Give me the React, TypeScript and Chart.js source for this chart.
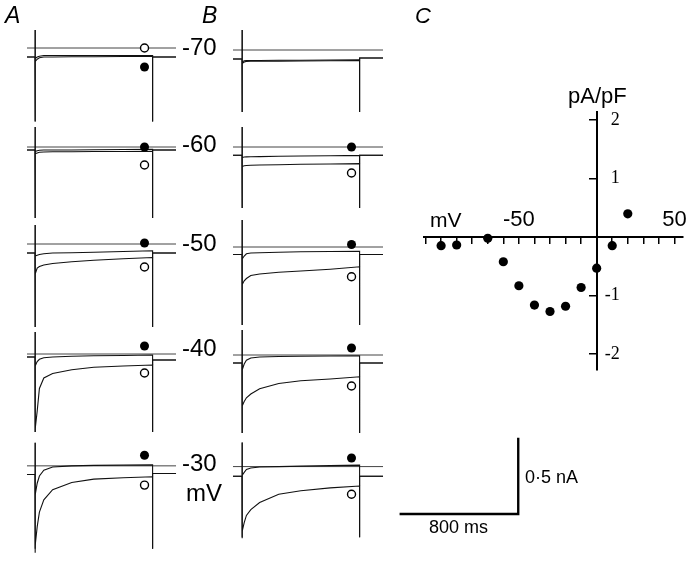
import React, { useEffect, useRef } from 'react';
import { Chart, registerables } from 'chart.js';

Chart.register(...registerables);

const W = 692;
const H = 561;

// ---------- Panel C : current density vs voltage ----------
const C_MV = [-100, -90, -70, -60, -50, -40, -30, -20, -10, 0, 10, 20];
const C_DENSITY = [-0.145, -0.133, -0.02, -0.42, -0.83, -1.16, -1.27, -1.18, -0.86, -0.53, -0.145, 0.4];
const C_X_LABELS = [-50, 50];
const C_Y_LABELS = [-2, -1, 1, 2];

// ---------- Panels A and B : current traces (nA vs ms) ----------
const STEP_LABELS = ['-70', '-60', '-50', '-40', '-30'];
const STEP_MS = 800;
const MARK_MS = 745;
const T_SAMPLES = [0, 5, 15, 30, 60, 120, 250, 400, 600, 800];

const A_CTRL = [
  [-0.1, -0.09, -0.075, -0.065, -0.06, -0.06, -0.058, -0.058, -0.057, -0.055],
  [-0.04, -0.03, -0.025, -0.022, -0.02, -0.02, -0.02, -0.018, -0.017, -0.015],
  [-0.09, -0.08, -0.075, -0.07, -0.065, -0.06, -0.058, -0.055, -0.05, -0.045],
  [-0.12, -0.08, -0.05, -0.035, -0.025, -0.02, -0.015, -0.012, -0.01, -0.007],
  [-0.3, -0.2, -0.12, -0.07, -0.03, -0.008, 0, 0.003, 0.005, 0.007],
];
const A_TEST = [
  [-0.08, -0.07, -0.06, -0.055, -0.05, -0.05, -0.05, -0.05, -0.05, -0.05],
  [-0.05, -0.045, -0.04, -0.035, -0.033, -0.032, -0.032, -0.03, -0.03, -0.028],
  [-0.25, -0.2, -0.16, -0.15, -0.14, -0.13, -0.118, -0.108, -0.098, -0.09],
  [-0.52, -0.5, -0.38, -0.23, -0.16, -0.13, -0.105, -0.088, -0.08, -0.073],
  [-0.6, -0.55, -0.42, -0.32, -0.235, -0.165, -0.115, -0.092, -0.082, -0.075],
];
const A_HOLD = [-0.06, -0.02, -0.06, -0.02, -0.06];
const A_TAIL = [-0.06, -0.02, -0.06, -0.04, -0.053];
const A_TOP = [0.12, 0.133, 0.127, 0.147, 0.16];
const A_BOTTOM = [-0.49, -0.473, -0.553, -0.52, -0.573];
const A_FILLED = [-0.127, 0, 0.007, 0.053, 0.073];
const A_OPEN = [0, -0.12, -0.153, -0.127, -0.133];

const B_CTRL = [
  [-0.1, -0.08, -0.072, -0.07, -0.07, -0.07, -0.068, -0.068, -0.067, -0.066],
  [-0.08, -0.07, -0.067, -0.066, -0.065, -0.064, -0.062, -0.06, -0.058, -0.056],
  [-0.1, -0.08, -0.06, -0.045, -0.04, -0.038, -0.035, -0.032, -0.03, -0.028],
  [-0.2, -0.1, -0.06, -0.035, -0.02, -0.013, -0.01, -0.008, -0.007, -0.006],
  [-0.12, -0.06, -0.04, -0.02, -0.01, -0.003, 0, 0.003, 0.007, 0.01],
];
const B_TEST = [
  [-0.11, -0.09, -0.08, -0.076, -0.075, -0.075, -0.074, -0.073, -0.072, -0.07],
  [-0.14, -0.13, -0.125, -0.123, -0.122, -0.12, -0.118, -0.115, -0.113, -0.111],
  [-0.3, -0.25, -0.225, -0.21, -0.19, -0.18, -0.168, -0.16, -0.148, -0.132],
  [-0.48, -0.34, -0.31, -0.285, -0.26, -0.225, -0.19, -0.172, -0.16, -0.145],
  [-0.5, -0.45, -0.39, -0.34, -0.3, -0.25, -0.193, -0.168, -0.148, -0.135],
];
const B_HOLD = [-0.06, -0.055, -0.05, -0.053, -0.067];
const B_TAIL = [-0.053, -0.055, -0.05, -0.053, -0.067];
const B_TOP = [0.133, 0.133, 0.18, 0.167, 0.167];
const B_BOTTOM = [-0.413, -0.407, -0.52, -0.52, -0.493];
const B_FILLED = [null, 0, 0.017, 0.047, 0.06];
const B_OPEN = [null, -0.173, -0.198, -0.207, -0.193];

// scale bar
const BAR_MS = 800;
const BAR_NA = 0.5;

// ---------- layout (pixels) ----------
const PX_PER_MS = 0.147;
const PX_PER_NA = 150;
const NA_MIN = -0.62;
const NA_MAX = 0.22;
const T_MAX = 960;
const LAYOUT_A = { x0: 35, tMin: -55, rows: [48, 147, 244, 354, 467] };
const LAYOUT_B = { x0: 242, tMin: -62, rows: [50, 147, 247, 355, 468] };
const LAYOUT_BAR = { x0: 400.7, y0: 514 };
const LAYOUT_C = { left: 424, right: 683, top: 112, bottom: 370, xMin: -111, xMax: 55.5, yMin: -2.27, yMax: 2.14, yLabelAt: 14.8 };

const SANS = "'Liberation Sans', Arial, Helvetica, sans-serif";
const SERIF = "'Liberation Serif', 'Times New Roman', serif";
const INK = '#111';

function baseOptions(padding: any) {
  return {
    animation: false,
    responsive: false,
    devicePixelRatio: 1,
    events: [],
    layout: { padding },
    plugins: { legend: { display: false }, tooltip: { enabled: false }, title: { display: false } },
  };
}

function hiddenScales(xMin: number, xMax: number, yMin: number, yMax: number) {
  return {
    x: { type: 'linear', display: false, min: xMin, max: xMax },
    y: { type: 'linear', display: false, min: yMin, max: yMax },
  };
}

function tracePoints(vals: number[], hold: number, tail: number, top: number, bottom: number, tMin: number) {
  const pts = [
    { x: tMin, y: hold },
    { x: 0, y: hold },
    { x: 0, y: top },
    { x: 0, y: bottom },
  ];
  T_SAMPLES.forEach((t, i) => pts.push({ x: t, y: vals[i] }));
  pts.push({ x: STEP_MS, y: bottom }, { x: STEP_MS, y: tail }, { x: T_MAX, y: tail });
  return pts;
}

function traceConfig(col: 'A' | 'B', r: number) {
  const L = col === 'A' ? LAYOUT_A : LAYOUT_B;
  const ctrl = col === 'A' ? A_CTRL : B_CTRL;
  const test = col === 'A' ? A_TEST : B_TEST;
  const hold = col === 'A' ? A_HOLD : B_HOLD;
  const tail = col === 'A' ? A_TAIL : B_TAIL;
  const top = col === 'A' ? A_TOP : B_TOP;
  const bottom = col === 'A' ? A_BOTTOM : B_BOTTOM;
  const filled = col === 'A' ? A_FILLED : B_FILLED;
  const open = col === 'A' ? A_OPEN : B_OPEN;
  const y0 = L.rows[r];
  const padding = {
    left: L.x0 + L.tMin * PX_PER_MS,
    right: W - (L.x0 + T_MAX * PX_PER_MS),
    top: y0 - NA_MAX * PX_PER_NA,
    bottom: H - (y0 - NA_MIN * PX_PER_NA),
  };
  const line = (data: any[], color = INK, width = 1.1) => ({
    type: 'scatter',
    data,
    showLine: true,
    pointRadius: 0,
    borderColor: color,
    borderWidth: width,
    tension: 0,
  });
  const datasets: any[] = [];
  if (filled[r] !== null) {
    datasets.push({ type: 'scatter', data: [{ x: MARK_MS, y: filled[r] }], pointRadius: 4.5, backgroundColor: '#000', borderColor: '#000', borderWidth: 0 });
  }
  if (open[r] !== null) {
    datasets.push({ type: 'scatter', data: [{ x: MARK_MS, y: open[r] }], pointRadius: 4, backgroundColor: '#fff', borderColor: '#000', borderWidth: 1.4 });
  }
  datasets.push(line(tracePoints(ctrl[r], hold[r], tail[r], top[r], bottom[r], L.tMin)));
  datasets.push(line(tracePoints(test[r], hold[r], tail[r], top[r], bottom[r], L.tMin)));
  datasets.push(line([{ x: L.tMin, y: 0 }, { x: T_MAX, y: 0 }], '#444', 1));
  return {
    type: 'scatter',
    data: { datasets },
    options: { ...baseOptions(padding), scales: hiddenScales(L.tMin, T_MAX, NA_MIN, NA_MAX) },
  };
}

function barConfig() {
  const tMin = -10, tMax = 810, nMin = -0.05, nMax = 0.55;
  const padding = {
    left: LAYOUT_BAR.x0 + tMin * PX_PER_MS,
    right: W - (LAYOUT_BAR.x0 + tMax * PX_PER_MS),
    top: LAYOUT_BAR.y0 - nMax * PX_PER_NA,
    bottom: H - (LAYOUT_BAR.y0 - nMin * PX_PER_NA),
  };
  return {
    type: 'scatter',
    data: {
      datasets: [
        {
          data: [{ x: 0, y: 0 }, { x: BAR_MS, y: 0 }, { x: BAR_MS, y: BAR_NA }],
          showLine: true,
          pointRadius: 0,
          borderColor: '#000',
          borderWidth: 2.5,
          borderCapStyle: 'square',
          borderJoinStyle: 'miter',
        },
      ],
    },
    options: { ...baseOptions(padding), scales: hiddenScales(tMin, tMax, nMin, nMax) },
  };
}

function ivConfig() {
  const C = LAYOUT_C;
  const padding = { left: C.left, right: W - C.right, top: C.top, bottom: H - C.bottom };
  return {
    type: 'scatter',
    data: {
      datasets: [
        {
          data: C_MV.map((x, i) => ({ x, y: C_DENSITY[i] })),
          pointRadius: 4.6,
          backgroundColor: '#000',
          borderColor: '#000',
          borderWidth: 0,
        },
      ],
    },
    options: {
      ...baseOptions(padding),
      scales: {
        x: {
          type: 'linear',
          position: { y: 0 },
          min: C.xMin,
          max: C.xMax,
          grid: { display: true, drawOnChartArea: false, drawTicks: true, tickLength: 6, color: '#000', lineWidth: 1.5 },
          border: { display: true, color: '#000', width: 2 },
          ticks: {
            stepSize: 10,
            includeBounds: false,
            autoSkip: false,
            maxRotation: 0,
            minRotation: 0,
            padding: -36,
            color: '#000',
            font: { family: SANS, size: 22 },
            callback: (v: number) => (C_X_LABELS.includes(v) ? String(v) : ''),
          },
        },
        y: {
          type: 'linear',
          position: { x: 0 },
          min: C.yMin,
          max: C.yMax,
          grid: { display: true, drawOnChartArea: false, drawTicks: true, tickLength: 7, color: '#000', lineWidth: 1.5 },
          border: { display: true, color: '#000', width: 2 },
          ticks: {
            stepSize: 1,
            includeBounds: false,
            autoSkip: false,
            callback: () => '',
          },
        },
        yLabels: {
          type: 'linear',
          axis: 'y',
          position: { x: C.yLabelAt },
          min: C.yMin,
          max: C.yMax,
          grid: { display: false },
          border: { display: false },
          ticks: {
            stepSize: 1,
            includeBounds: false,
            autoSkip: false,
            color: '#000',
            font: { family: SERIF, size: 18 },
            callback: (v: number) => (C_Y_LABELS.includes(v) ? String(v) : ''),
          },
        },
      },
    },
  };
}

function ChartCanvas({ make }: { make: () => any }) {
  const ref = useRef<HTMLCanvasElement>(null);
  useEffect(() => {
    const chart = new Chart(ref.current as HTMLCanvasElement, make());
    return () => chart.destroy();
  }, []);
  return (
    <canvas
      ref={ref}
      width={W}
      height={H}
      style={{ position: 'absolute', left: 0, top: 0, width: W, height: H }}
    />
  );
}

function Txt({ x, base, size, italic, family, children }: any) {
  return (
    <div
      style={{
        position: 'absolute',
        left: x,
        top: base - 0.8465 * size,
        fontFamily: family || SANS,
        fontSize: size,
        lineHeight: `${size}px`,
        fontStyle: italic ? 'italic' : 'normal',
        whiteSpace: 'nowrap',
        color: '#000',
      }}
    >
      {children}
    </div>
  );
}

const STEP_LABEL_BASE = [55, 152, 251.7, 356.7, 471.7];

export default function App() {
  const traces: any[] = [];
  for (let r = 0; r < 5; r++) {
    traces.push(<ChartCanvas key={`A${r}`} make={() => traceConfig('A', r)} />);
    traces.push(<ChartCanvas key={`B${r}`} make={() => traceConfig('B', r)} />);
  }
  return (
    <div style={{ position: 'absolute', left: 0, top: 0, width: W, height: H, background: '#fff', overflow: 'hidden' }}>
      {traces}
      <ChartCanvas make={barConfig} />
      <ChartCanvas make={ivConfig} />
      <Txt x={5} base={23.3} size={23} italic>A</Txt>
      <Txt x={202} base={23.3} size={23} italic>B</Txt>
      <Txt x={415} base={23.3} size={22} italic>C</Txt>
      {STEP_LABELS.map((s, i) => (
        <Txt key={s} x={182} base={STEP_LABEL_BASE[i]} size={24}>{s}</Txt>
      ))}
      <Txt x={186} base={501.7} size={24}>mV</Txt>
      <Txt x={430} base={226.7} size={21}>mV</Txt>
      <Txt x={568} base={103.3} size={22}>pA/pF</Txt>
      <Txt x={525} base={483.3} size={18}>0·5 nA</Txt>
      <Txt x={429} base={533.3} size={18}>800 ms</Txt>
    </div>
  );
}
